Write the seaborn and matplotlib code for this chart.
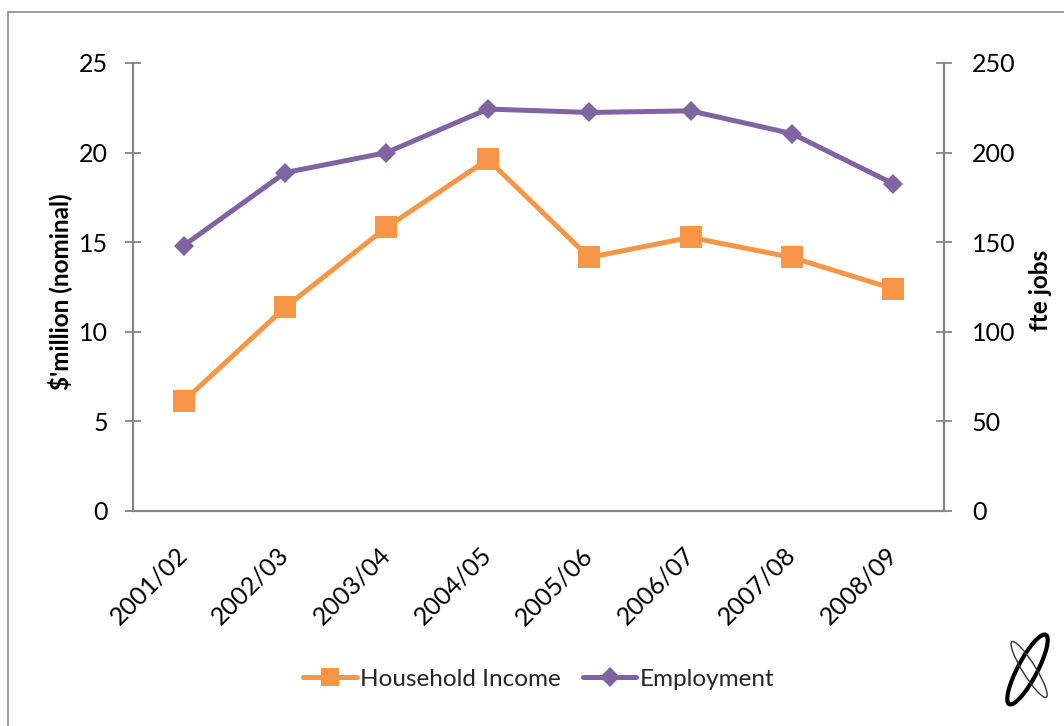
import numpy as np
import pandas as pd
import matplotlib
matplotlib.use("Agg")
import matplotlib.pyplot as plt
import seaborn as sns
from matplotlib.patches import Rectangle, Ellipse
from matplotlib.lines import Line2D

categories = ["2001/02", "2002/03", "2003/04", "2004/05", "2005/06", "2006/07", "2007/08", "2008/09"]
household_income = [6.13, 11.36, 15.83, 19.62, 14.15, 15.27, 14.15, 12.40]
employment = [148.1, 188.8, 200.0, 224.3, 222.4, 223.3, 210.6, 182.6]
left_ticks = [0, 5, 10, 15, 20, 25]
right_ticks = [0, 50, 100, 150, 200, 250]

sns.set_theme(style="white")
plt.rcParams['font.family'] = ['Lato', 'DejaVu Sans']

ORANGE = "#F79646"
PURPLE = "#8064A2"
GRAY = "#868686"
FS = 18

fig = plt.figure(figsize=(10.64, 7.26), dpi=100)
fig.patch.set_facecolor("white")
fig.patches.append(Rectangle((8 / 1064, -0.1), 1.2, 1 - 12 / 726 + 0.1, transform=fig.transFigure,
                             fill=False, edgecolor="#8c8c8c", linewidth=1.2, figure=fig))

ax = fig.add_axes([133 / 1064, 1 - 511 / 726, (944 - 133) / 1064, (511 - 63) / 726])
ax2 = ax.twinx()

df = pd.DataFrame({"idx": np.arange(len(categories)), "income": household_income, "emp": employment})

sns.lineplot(data=df, x="idx", y="income", ax=ax, color=ORANGE, linewidth=3.6,
             marker="s", markersize=15.5, markeredgewidth=0, markeredgecolor=ORANGE, zorder=3)
sns.lineplot(data=df, x="idx", y="emp", ax=ax2, color=PURPLE, linewidth=3.6,
             marker="D", markersize=10.5, markeredgewidth=0, markeredgecolor=PURPLE, zorder=3)

ax.set_xlim(-0.5, len(categories) - 0.5)
ax.set_ylim(0, 25)
ax2.set_ylim(0, 250)
ax.set_yticks(left_ticks)
ax2.set_yticks(right_ticks)
ax.set_yticklabels([str(t) for t in left_ticks])
ax2.set_yticklabels([str(t) for t in right_ticks])

ax.set_xticks(np.arange(len(categories)))
ax.set_xticklabels(categories, rotation=45, ha="right", va="center", rotation_mode="anchor")
ax.set_xticks(np.arange(-0.5, len(categories)), minor=True)
ax.tick_params(axis="x", which="major", length=0, pad=29, labelsize=FS, colors="black")
ax.tick_params(axis="x", which="minor", length=12, width=1.3, direction="inout", color=GRAY)
ax.tick_params(axis="y", which="major", length=12, width=1.3, direction="inout", color=GRAY,
               pad=12, labelsize=FS, labelcolor="black", left=True)
ax2.tick_params(axis="y", which="major", length=12, width=1.3, direction="inout", color=GRAY,
                pad=14, labelsize=FS, labelcolor="black", right=True)
ax.set_xlabel("")
ax.set_ylabel("")
ax2.set_ylabel("")
ax.grid(False)
ax2.grid(False)

for a in (ax, ax2):
    a.spines["top"].set_visible(False)
    for s in ("left", "right", "bottom"):
        a.spines[s].set_color(GRAY)
        a.spines[s].set_linewidth(1.5)
    a.set_facecolor("none")

fig.text(60 / 1064, 1 - 292 / 726, "$'million (nominal)", rotation=90, ha="center", va="center",
         fontsize=17.5, fontweight="bold", color="black")
fig.text(1040 / 1064, 1 - 290 / 726, "fte jobs", rotation=90, ha="center", va="center",
         fontsize=17.5, fontweight="bold", color="black")

handles = [
    Line2D([], [], color=ORANGE, linewidth=3.6, marker="s", markersize=13, markeredgewidth=0,
           solid_capstyle="round"),
    Line2D([], [], color=PURPLE, linewidth=3.6, marker="D", markersize=10, markeredgewidth=0,
           solid_capstyle="round"),
]
fig.legend(handles, ["Household Income", "Employment"], loc="center",
           bbox_to_anchor=(539 / 1064, 1 - 679 / 726), ncol=2, frameon=False,
           fontsize=17.5, handlelength=2.2, handletextpad=0.15, columnspacing=0.9)

# small decorative logo bottom-right
lax = fig.add_axes([995 / 1064, 1 - 712 / 726, 65 / 1064, 85 / 726])
lax.set_xlim(-1, 1)
lax.set_ylim(-1.3, 1.3)
lax.axis("off")
lax.add_patch(Ellipse((0, 0), 0.6, 2.4, angle=-28, fill=False, edgecolor="black", linewidth=3.0))
lax.add_patch(Ellipse((0.05, 0), 0.4, 2.0, angle=32, fill=False, edgecolor="#333333", linewidth=1.0))

fig.savefig("out.png", dpi=100, facecolor="white")
